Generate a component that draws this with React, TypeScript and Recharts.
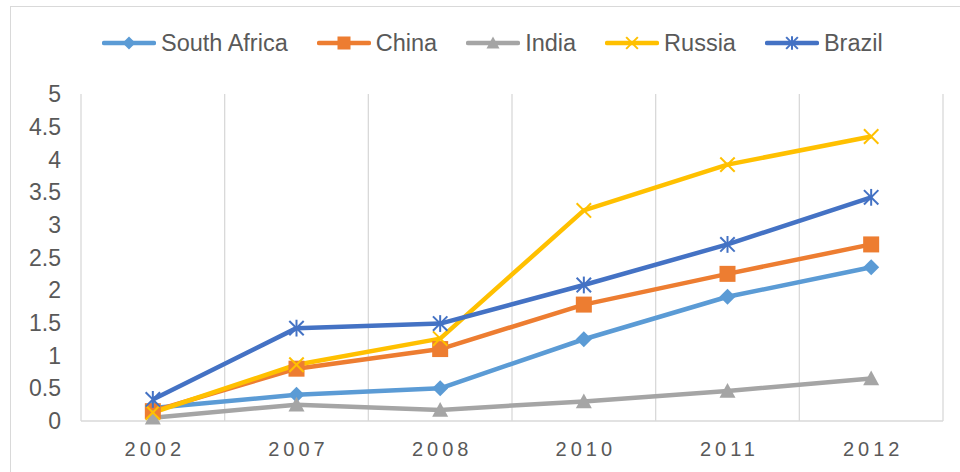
import React from 'react';
import { LineChart, Line, XAxis, YAxis, CartesianGrid } from 'recharts';

const years = ['2002', '2007', '2008', '2010', '2011', '2012'];
const southAfrica = [0.2, 0.4, 0.5, 1.25, 1.9, 2.35];
const china = [0.15, 0.8, 1.1, 1.78, 2.25, 2.7];
const india = [0.05, 0.25, 0.17, 0.3, 0.46, 0.65];
const russia = [0.13, 0.86, 1.26, 3.22, 3.92, 4.35];
const brazil = [0.33, 1.42, 1.49, 2.08, 2.7, 3.42];
const yTicks = [0, 0.5, 1, 1.5, 2, 2.5, 3, 3.5, 4, 4.5, 5];

type MarkerKind = 'diamond' | 'square' | 'triangle' | 'x' | 'star';

const SERIES: { name: string; values: number[]; color: string; marker: MarkerKind }[] = [
  { name: 'South Africa', values: southAfrica, color: '#5B9BD5', marker: 'diamond' },
  { name: 'China', values: china, color: '#ED7D31', marker: 'square' },
  { name: 'India', values: india, color: '#A5A5A5', marker: 'triangle' },
  { name: 'Russia', values: russia, color: '#FFC000', marker: 'x' },
  { name: 'Brazil', values: brazil, color: '#4472C4', marker: 'star' },
];

const chartData = years.map((year, i) => {
  const row: { [key: string]: string | number } = { year };
  SERIES.forEach((s) => {
    row[s.name] = s.values[i];
  });
  return row;
});

const FONT = '"Liberation Sans", Arial, sans-serif';
const TEXT = '#595959';
const GRID = '#D9D9D9';

function Marker({ kind, cx, cy, color, r = 8 }: { kind: MarkerKind; cx: number; cy: number; color: string; r?: number }) {
  if (kind === 'diamond') {
    return <polygon points={`${cx},${cy - r} ${cx + r},${cy} ${cx},${cy + r} ${cx - r},${cy}`} fill={color} />;
  }
  if (kind === 'square') {
    return <rect x={cx - r} y={cy - r} width={r * 2} height={r * 2} fill={color} />;
  }
  if (kind === 'triangle') {
    return <polygon points={`${cx},${cy - r} ${cx + r},${cy + r * 0.85} ${cx - r},${cy + r * 0.85}`} fill={color} />;
  }
  const a = r * 0.9;
  return (
    <g stroke={color} strokeWidth={2} fill="none">
      <line x1={cx - a} y1={cy - a} x2={cx + a} y2={cy + a} />
      <line x1={cx - a} y1={cy + a} x2={cx + a} y2={cy - a} />
      {kind === 'star' && <line x1={cx} y1={cy - r * 1.05} x2={cx} y2={cy + r * 1.05} />}
    </g>
  );
}

const XTick = (props: any) => {
  const { x, y, payload } = props;
  return (
    <text x={x + 2} y={y} dy="0.71em" textAnchor="middle" fill={TEXT} fontSize={20} letterSpacing={4} fontFamily={FONT}>
      {payload.value}
    </text>
  );
};

export default function App() {
  return (
    <div style={{ position: 'absolute', left: 0, top: 0, width: 960, height: 472, overflow: 'hidden', background: '#fff', fontFamily: FONT }}>
      <div style={{ position: 'absolute', left: 10, top: 6, width: 980, height: 500, border: `1.5px solid ${GRID}` }} />

      {/* Legend */}
      <div style={{ position: 'absolute', left: 102, top: 29, height: 28, display: 'flex', alignItems: 'center', gap: 29 }}>
        {SERIES.map((s) => (
          <div key={s.name} style={{ display: 'flex', alignItems: 'center' }}>
            <svg width={54} height={20} style={{ display: 'block' }}>
              <line x1={2} y1={10} x2={52} y2={10} stroke={s.color} strokeWidth={4.5} strokeLinecap="round" />
              <Marker kind={s.marker} cx={27} cy={10} color={s.color} r={6.5} />
            </svg>
            <span style={{ marginLeft: 5, fontSize: 23.5, color: TEXT, lineHeight: '28px' }}>{s.name}</span>
          </div>
        ))}
      </div>

      <div style={{ position: 'absolute', left: 0, top: 0 }}>
        <LineChart width={960} height={472} data={chartData} margin={{ top: 94, right: 17, bottom: 21, left: 21 }}>
          <CartesianGrid
            horizontal={false}
            stroke={GRID}
            strokeWidth={1.3}
            verticalCoordinatesGenerator={(props: any) => {
              const o = props && props.offset;
              if (!o) return [];
              return Array.from({ length: years.length + 1 }, (_, i) => o.left + (o.width * i) / years.length);
            }}
          />
          <XAxis
            dataKey="year"
            scale="band"
            axisLine={{ stroke: GRID, strokeWidth: 1.5 }}
            tickLine={false}
            tickSize={0}
            tickMargin={21}
            height={30}
            tick={<XTick />}
          />
          <YAxis
            domain={[0, 5]}
            ticks={yTicks}
            axisLine={false}
            tickLine={false}
            tickSize={0}
            tickMargin={20}
            width={60}
            tick={{ fill: TEXT, fontSize: 23, fontFamily: FONT }}
          />
          {SERIES.map((s) => (
            <Line
              key={s.name}
              type="linear"
              dataKey={s.name}
              stroke={s.color}
              strokeWidth={4.5}
              strokeLinejoin="round"
              isAnimationActive={false}
              activeDot={false}
              dot={(p: any) => <Marker key={`${s.name}-${p.index}`} kind={s.marker} cx={p.cx} cy={p.cy} color={s.color} />}
            />
          ))}
        </LineChart>
      </div>
    </div>
  );
}
